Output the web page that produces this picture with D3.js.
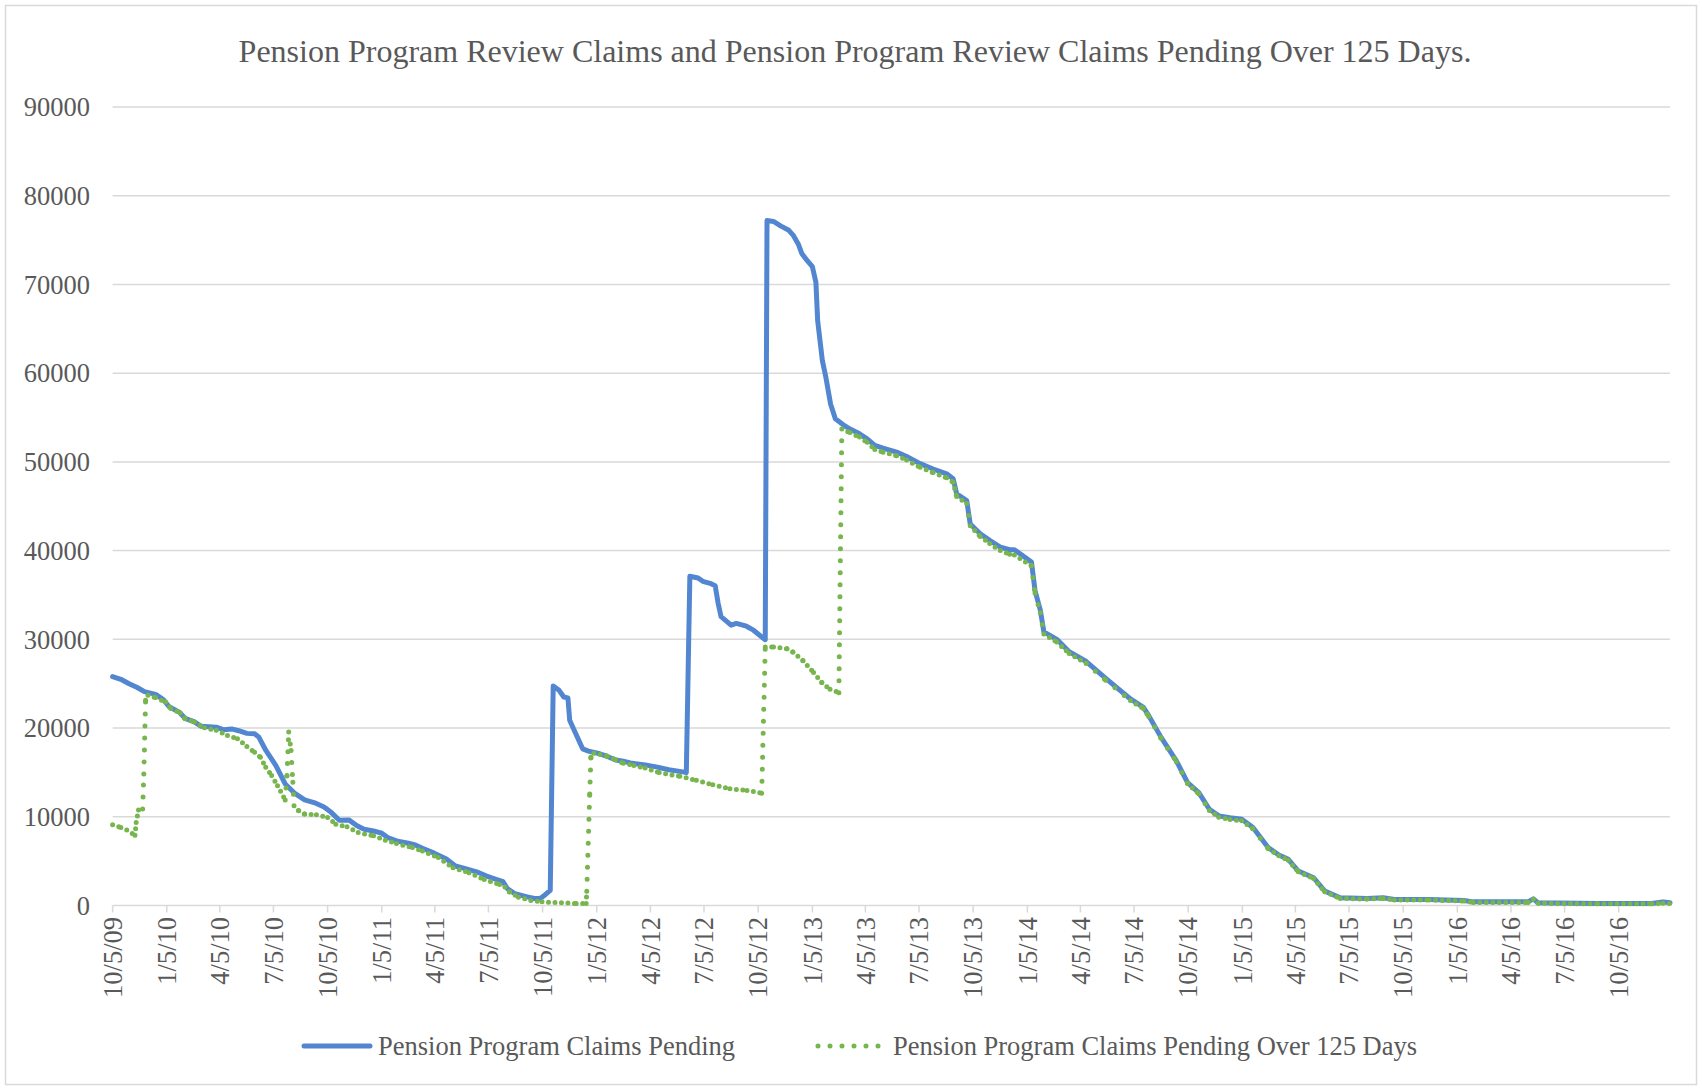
<!DOCTYPE html>
<html>
<head>
<meta charset="utf-8">
<script src="https://cdn.jsdelivr.net/npm/d3@7"></script>
<style>
	body { margin: 0; background: #fff; }
	text { font-family: "Liberation Serif", "Times New Roman", serif; fill: #595959; }
</style>
</head>
<body>
<div class="container"></div>
<script>
// chart data
var titleText = "Pension Program Review Claims and Pension Program Review Claims Pending Over 125 Days.";
var seriesNames = ["Pension Program Claims Pending", "Pension Program Claims Pending Over 125 Days"];
var yTicks = [0, 10000, 20000, 30000, 40000, 50000, 60000, 70000, 80000, 90000];
var tickLabels = ["10/5/09", "1/5/10", "4/5/10", "7/5/10", "10/5/10", "1/5/11", "4/5/11", "7/5/11",
	"10/5/11", "1/5/12", "4/5/12", "7/5/12", "10/5/12", "1/5/13", "4/5/13", "7/5/13", "10/5/13",
	"1/5/14", "4/5/14", "7/5/14", "10/5/14", "1/5/15", "4/5/15", "7/5/15", "10/5/15", "1/5/16",
	"4/5/16", "7/5/16", "10/5/16"];
var axisEnd = "2016-12-31";

var pending = [
	["2009-10-05", 25800], ["2009-10-19", 25500], ["2009-11-02", 25000], ["2009-11-15", 24600],
	["2009-11-28", 24100], ["2009-12-17", 23800], ["2009-12-30", 23200], ["2010-01-09", 22400],
	["2010-01-26", 21800], ["2010-02-05", 21100], ["2010-02-21", 20700], ["2010-03-04", 20200],
	["2010-03-30", 20100], ["2010-04-12", 19800], ["2010-04-25", 19900], ["2010-05-07", 19700],
	["2010-05-21", 19400], ["2010-06-03", 19350], ["2010-06-10", 19000], ["2010-06-22", 17500],
	["2010-07-09", 15800], ["2010-07-25", 13700], ["2010-08-11", 12600], ["2010-08-27", 11900],
	["2010-09-12", 11600], ["2010-09-29", 11100], ["2010-10-11", 10500], ["2010-10-25", 9600],
	["2010-11-10", 9650], ["2010-11-24", 8980], ["2010-12-06", 8600], ["2010-12-22", 8400],
	["2011-01-05", 8150], ["2011-01-15", 7660], ["2011-01-30", 7280], ["2011-02-19", 7020],
	["2011-03-03", 6830], ["2011-03-15", 6450], ["2011-04-04", 5900], ["2011-04-24", 5280],
	["2011-05-10", 4450], ["2011-05-27", 4150], ["2011-06-15", 3800], ["2011-07-02", 3320],
	["2011-07-18", 2940], ["2011-07-30", 2680], ["2011-08-06", 1920], ["2011-08-19", 1320],
	["2011-09-09", 980], ["2011-09-21", 790], ["2011-10-01", 790], ["2011-10-10", 1250],
	["2011-10-18", 1700], ["2011-10-23", 24750], ["2011-11-02", 24250], ["2011-11-10", 23500],
	["2011-11-17", 23400], ["2011-11-20", 20870], ["2011-11-29", 19550], ["2011-12-12", 17660],
	["2011-12-22", 17400], ["2012-01-10", 17100], ["2012-01-23", 16800], ["2012-02-06", 16400],
	["2012-02-19", 16260], ["2012-03-02", 16070], ["2012-03-14", 15960], ["2012-03-27", 15850],
	["2012-04-17", 15600], ["2012-05-06", 15300], ["2012-05-30", 15060], ["2012-06-05", 14980],
	["2012-06-11", 37110], ["2012-06-25", 36920], ["2012-07-03", 36540], ["2012-07-17", 36270],
	["2012-07-24", 36050], ["2012-07-29", 34070], ["2012-08-03", 32550], ["2012-08-20", 31600],
	["2012-08-29", 31790], ["2012-09-15", 31480], ["2012-09-27", 31030], ["2012-10-17", 29960],
	["2012-10-20", 77200], ["2012-10-31", 77100], ["2012-11-12", 76600], ["2012-11-26", 76100],
	["2012-12-04", 75500], ["2012-12-12", 74560], ["2012-12-18", 73500], ["2012-12-27", 72700],
	["2013-01-05", 72000], ["2013-01-11", 70240], ["2013-01-14", 65900], ["2013-01-22", 61400],
	["2013-01-28", 59500], ["2013-02-05", 56500], ["2013-02-13", 54850], ["2013-02-28", 54100],
	["2013-03-10", 53700], ["2013-03-26", 53160], ["2013-04-08", 52600], ["2013-04-21", 51850],
	["2013-05-05", 51550], ["2013-05-28", 51100], ["2013-06-14", 50600], ["2013-07-07", 49800],
	["2013-07-29", 49200], ["2013-08-21", 48650], ["2013-09-01", 48100], ["2013-09-07", 46400],
	["2013-09-24", 45650], ["2013-09-30", 43000], ["2013-10-17", 41900], ["2013-11-02", 41150],
	["2013-11-20", 40400], ["2013-12-06", 40100], ["2013-12-14", 40100], ["2014-01-12", 38700],
	["2014-01-18", 35500], ["2014-01-27", 33300], ["2014-02-02", 30850], ["2014-02-24", 30000],
	["2014-03-17", 28600], ["2014-04-15", 27500], ["2014-05-18", 25600], ["2014-06-29", 23280],
	["2014-07-21", 22330], ["2014-07-30", 21400], ["2014-08-20", 18950], ["2014-09-15", 16300],
	["2014-10-04", 13860], ["2014-10-23", 12730], ["2014-11-10", 10850], ["2014-11-26", 10100],
	["2014-12-15", 9900], ["2015-01-04", 9720], ["2015-01-23", 8780], ["2015-02-18", 6520],
	["2015-03-08", 5690], ["2015-03-24", 5200], ["2015-04-10", 3880], ["2015-05-06", 3130],
	["2015-05-25", 1620], ["2015-06-20", 870], ["2015-08-05", 790], ["2015-09-01", 870],
	["2015-09-20", 680], ["2015-11-18", 680], ["2016-01-16", 565], ["2016-02-01", 410],
	["2016-05-04", 410], ["2016-05-13", 750], ["2016-05-21", 300], ["2016-08-30", 230],
	["2016-11-30", 230], ["2016-12-19", 410], ["2016-12-31", 300]
];

var over125 = [
	["2009-10-05", 9100], ["2009-10-19", 8800], ["2009-10-29", 8500], ["2009-11-12", 7920],
	["2009-11-14", 9360], ["2009-11-18", 10750], ["2009-11-25", 10870], ["2009-11-27", 14830],
	["2009-11-30", 23130], ["2009-12-04", 23700], ["2009-12-17", 23430], ["2010-01-03", 22940],
	["2010-01-12", 22200], ["2010-01-28", 21700], ["2010-02-05", 21060], ["2010-02-21", 20680],
	["2010-03-10", 20040], ["2010-03-30", 19740], ["2010-04-18", 19170], ["2010-05-05", 18800],
	["2010-05-21", 17920], ["2010-06-03", 17280], ["2010-06-13", 16720], ["2010-06-22", 15580],
	["2010-07-02", 14640], ["2010-07-12", 13510], ["2010-07-25", 11890], ["2010-07-28", 14640],
	["2010-07-31", 19550], ["2010-08-04", 17470], ["2010-08-07", 13890], ["2010-08-09", 11250],
	["2010-08-17", 10680], ["2010-08-27", 10300], ["2010-09-16", 10230], ["2010-10-05", 9920],
	["2010-10-19", 9170], ["2010-11-07", 8870], ["2010-11-26", 8230], ["2010-12-22", 7850],
	["2011-01-11", 7360], ["2011-01-30", 6980], ["2011-02-26", 6530], ["2011-03-15", 6150],
	["2011-04-11", 5400], ["2011-05-06", 4260], ["2011-06-02", 3700], ["2011-06-28", 2940],
	["2011-07-24", 2380], ["2011-08-02", 2080], ["2011-08-10", 1510], ["2011-08-25", 940],
	["2011-09-15", 570], ["2011-10-04", 415], ["2011-11-06", 300], ["2011-12-01", 230],
	["2011-12-18", 230], ["2011-12-19", 1620], ["2011-12-24", 12570], ["2011-12-26", 16700],
	["2011-12-31", 17170], ["2012-01-23", 16830], ["2012-02-06", 16420], ["2012-02-19", 16040],
	["2012-03-08", 15770], ["2012-03-27", 15510], ["2012-04-20", 14980], ["2012-05-25", 14560],
	["2012-06-22", 14110], ["2012-07-20", 13610], ["2012-08-18", 13160], ["2012-09-16", 12970],
	["2012-10-11", 12660], ["2012-10-17", 29130], ["2012-10-31", 29130], ["2012-11-23", 28940],
	["2012-12-03", 28560], ["2012-12-20", 27600], ["2013-01-07", 26270], ["2013-01-21", 25130],
	["2013-02-04", 24370], ["2013-02-19", 23990], ["2013-02-24", 53700], ["2013-03-10", 53300],
	["2013-03-26", 52800], ["2013-04-08", 52200], ["2013-04-21", 51400], ["2013-05-05", 51100],
	["2013-05-28", 50700], ["2013-06-14", 50200], ["2013-07-07", 49400], ["2013-07-29", 48800],
	["2013-08-21", 48200], ["2013-09-01", 47700], ["2013-09-07", 46100], ["2013-09-24", 45300],
	["2013-09-30", 42800], ["2013-10-17", 41600], ["2013-11-02", 40800], ["2013-11-20", 40000],
	["2013-12-06", 39600], ["2013-12-14", 39500], ["2014-01-12", 38300], ["2014-01-18", 35200],
	["2014-01-27", 33000], ["2014-02-02", 30600], ["2014-02-24", 29700], ["2014-03-17", 28400],
	["2014-04-15", 27300], ["2014-05-18", 25400], ["2014-06-29", 23100], ["2014-07-21", 22200],
	["2014-07-30", 21300], ["2014-08-20", 18850], ["2014-09-15", 16200], ["2014-10-04", 13750],
	["2014-10-23", 12600], ["2014-11-10", 10700], ["2014-11-26", 9950], ["2014-12-15", 9700],
	["2015-01-04", 9550], ["2015-01-23", 8650], ["2015-02-18", 6400], ["2015-03-08", 5600],
	["2015-03-24", 5100], ["2015-04-10", 3800], ["2015-05-06", 3050], ["2015-05-25", 1550],
	["2015-06-20", 800], ["2015-08-05", 720], ["2015-09-01", 800], ["2015-09-20", 620],
	["2015-11-18", 620], ["2016-01-16", 500], ["2016-02-01", 350], ["2016-05-04", 350],
	["2016-05-13", 700], ["2016-05-21", 250], ["2016-08-30", 190], ["2016-11-30", 190],
	["2016-12-19", 250], ["2016-12-31", 230]
];

var width = 1702, height = 1090;
var blue = "#5386d0", green = "#77b54d", grid = "#d9d9d9";

var parseIso = d3.timeParse("%Y-%m-%d");
var parseTick = d3.timeParse("%m/%d/%y");

var svg = d3.select(".container").append("svg")
	.attr("width", width)
	.attr("height", height);

// chart border
svg.append("rect")
	.attr("x", 5.5).attr("y", 5.5)
	.attr("width", width - 11).attr("height", height - 11)
	.attr("fill", "#fff")
	.attr("stroke", grid)
	.attr("stroke-width", 1.5);

var tickDates = tickLabels.map(function (t) { return parseTick(t); });

var x = d3.scaleTime()
	.domain([tickDates[0], parseIso(axisEnd)])
	.range([112.6, 1670]);

var y = d3.scaleLinear()
	.domain([0, 90000])
	.range([905.5, 107]);

// title
svg.append("text")
	.attr("x", 855)
	.attr("y", 62)
	.attr("text-anchor", "middle")
	.style("font-size", "32px")
	.text(titleText);

// horizontal gridlines
svg.append("g").selectAll("line")
	.data(yTicks)
	.enter().append("line")
		.attr("x1", x.range()[0])
		.attr("x2", x.range()[1])
		.attr("y1", function (d) { return y(d); })
		.attr("y2", function (d) { return y(d); })
		.attr("stroke", grid)
		.attr("stroke-width", 1.5);

// y labels
svg.append("g").selectAll("text")
	.data(yTicks)
	.enter().append("text")
		.attr("x", 90)
		.attr("y", function (d) { return y(d); })
		.attr("dy", "0.35em")
		.attr("text-anchor", "end")
		.style("font-size", "26.5px")
		.text(function (d) { return d; });

// x tick marks and labels
var xg = svg.append("g");
xg.selectAll("line")
	.data(tickDates)
	.enter().append("line")
		.attr("x1", function (d) { return x(d); })
		.attr("x2", function (d) { return x(d); })
		.attr("y1", y(0))
		.attr("y2", y(0) + 7)
		.attr("stroke", grid)
		.attr("stroke-width", 1.5);

xg.selectAll("text")
	.data(tickDates)
	.enter().append("text")
		.attr("transform", function (d) { return "translate(" + x(d) + "," + 917 + ") rotate(-90)"; })
		.attr("dy", "0.35em")
		.attr("text-anchor", "end")
		.style("font-size", "26.5px")
		.text(function (d, i) { return tickLabels[i]; });

function toPoints (rows) {
	return rows.map(function (r) { return { date: parseIso(r[0]), value: r[1] }; });
}

var line = d3.line()
	.x(function (d) { return x(d.date); })
	.y(function (d) { return y(d.value); });

// series 1: solid blue
svg.append("path")
	.datum(toPoints(pending))
	.attr("d", line)
	.attr("fill", "none")
	.attr("stroke", blue)
	.attr("stroke-width", 5)
	.attr("stroke-linejoin", "round")
	.attr("stroke-linecap", "round");

// series 2: round dots, pattern restarts on each segment
var greenPts = toPoints(over125);
var segs = d3.pairs(greenPts);
svg.append("g").selectAll("line")
	.data(segs)
	.enter().append("line")
		.attr("x1", function (d) { return x(d[0].date); })
		.attr("y1", function (d) { return y(d[0].value); })
		.attr("x2", function (d) { return x(d[1].date); })
		.attr("y2", function (d) { return y(d[1].value); })
		.attr("stroke", green)
		.attr("stroke-width", 5)
		.attr("stroke-linecap", "round")
		.attr("stroke-dasharray", function (d) {
			var dy = Math.abs(y(d[0].value) - y(d[1].value));
			return dy > 15 ? "0,12" : "0,6.5";
		});

// legend
var legend = svg.append("g");
legend.append("line")
	.attr("x1", 304).attr("x2", 370)
	.attr("y1", 1046).attr("y2", 1046)
	.attr("stroke", blue)
	.attr("stroke-width", 5)
	.attr("stroke-linecap", "round");
legend.append("text")
	.attr("x", 378).attr("y", 1046).attr("dy", "0.35em")
	.style("font-size", "26.5px")
	.text(seriesNames[0]);
legend.append("line")
	.attr("x1", 818).attr("x2", 880)
	.attr("y1", 1046).attr("y2", 1046)
	.attr("stroke", green)
	.attr("stroke-width", 5)
	.attr("stroke-linecap", "round")
	.attr("stroke-dasharray", "0,12");
legend.append("text")
	.attr("x", 893).attr("y", 1046).attr("dy", "0.35em")
	.style("font-size", "26.5px")
	.text(seriesNames[1]);
</script>
</body>
</html>
